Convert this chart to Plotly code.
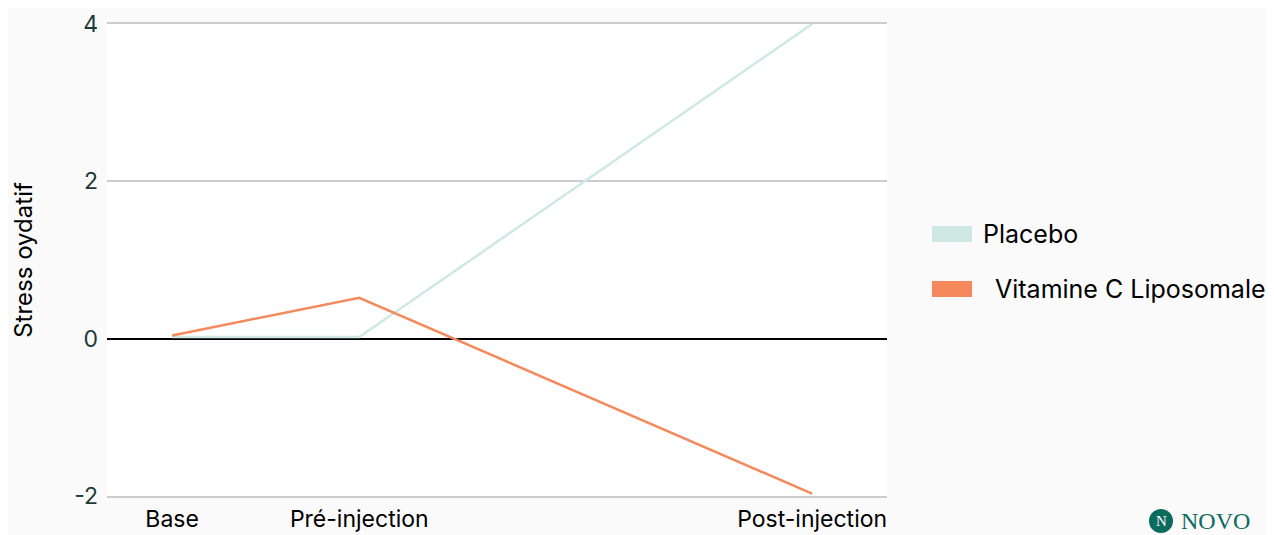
import plotly.graph_objects as go

# Data
categories = ["Base", "Pré-injection", "Post-injection"]
x_positions = [0, 1, 3.42]
placebo = [0.02, 0.02, 4.0]
vitamine_c = [0.04, 0.52, -1.97]
series_names = ["Placebo", "Vitamine C Liposomale"]
y_ticks = [-2, 0, 2, 4]
y_tick_labels = ["-2", "0", "2", "4"]

placebo_color = "#cfe8e3"
vitc_color = "#f5895b"
teal = "#0b6b5f"
font_family = "Inter, Lato, sans-serif"

fig = go.Figure()
fig.add_trace(go.Scatter(x=x_positions, y=placebo, mode="lines", name=series_names[0],
                         line=dict(color=placebo_color, width=2.5), showlegend=False))
fig.add_trace(go.Scatter(x=x_positions, y=vitamine_c, mode="lines", name=series_names[1],
                         line=dict(color=vitc_color, width=2.5), showlegend=False))

fig.update_layout(
    width=1266, height=527,
    margin=dict(l=99, r=387, t=16, b=39, autoexpand=False),
    paper_bgcolor="#fafafa",
    plot_bgcolor="#ffffff",
    showlegend=False,
    font=dict(family=font_family, size=24, color="#000000"),
    xaxis=dict(range=[-0.348, 3.82], tickvals=x_positions, ticktext=categories,
               showgrid=False, zeroline=False, showline=True, mirror=True,
               linecolor="#cccccc", linewidth=1.5,
               tickfont=dict(size=23, color="#000000"), ticks="", ticklabelstandoff=2),
    yaxis=dict(range=[-2, 4], tickvals=y_ticks, ticktext=y_tick_labels, showgrid=True,
               gridcolor="#cccccc", gridwidth=1.5, zeroline=True, zerolinecolor="#000000",
               zerolinewidth=2, showline=False, ticks="", ticklabelstandoff=8,
               tickfont=dict(size=23, color="#1d3b35"),
               title=dict(text="Stress oydatif", font=dict(size=24, color="#000000"), standoff=34)),
)

# legend (keys drawn as boxes, as in the reference)
legend_colors = [placebo_color, vitc_color]
legend_box_y = [(0.5381, 0.5720), (0.4216, 0.4555)]
legend_text_x = [1.1205, 1.1359]
for name, color, (y0, y1), tx in zip(series_names, legend_colors, legend_box_y, legend_text_x):
    fig.add_shape(type="rect", xref="paper", yref="paper", x0=1.0577, x1=1.1090, y0=y0, y1=y1,
                  fillcolor=color, line=dict(width=0))
    fig.add_annotation(xref="paper", yref="paper", x=tx, y=(y0 + y1) / 2, xanchor="left",
                       yanchor="middle", text=name, showarrow=False,
                       font=dict(size=25, color="#000000"))

# logo
fig.add_shape(type="circle", xref="paper", yref="paper", x0=1.3359, x1=1.3667, y0=-0.0784, y1=-0.0275,
              fillcolor=teal, line=dict(width=0))
fig.add_annotation(xref="paper", yref="paper", x=1.3513, y=-0.053, xanchor="center", yanchor="middle",
                   text="N", showarrow=False, font=dict(size=15, color="#ffffff", family="Liberation Serif"))
fig.add_annotation(xref="paper", yref="paper", x=1.374, y=-0.053, xanchor="left", yanchor="middle",
                   text="NOVO", showarrow=False,
                   font=dict(size=24, color=teal, family="Liberation Serif"))

fig.write_html("out.html")
